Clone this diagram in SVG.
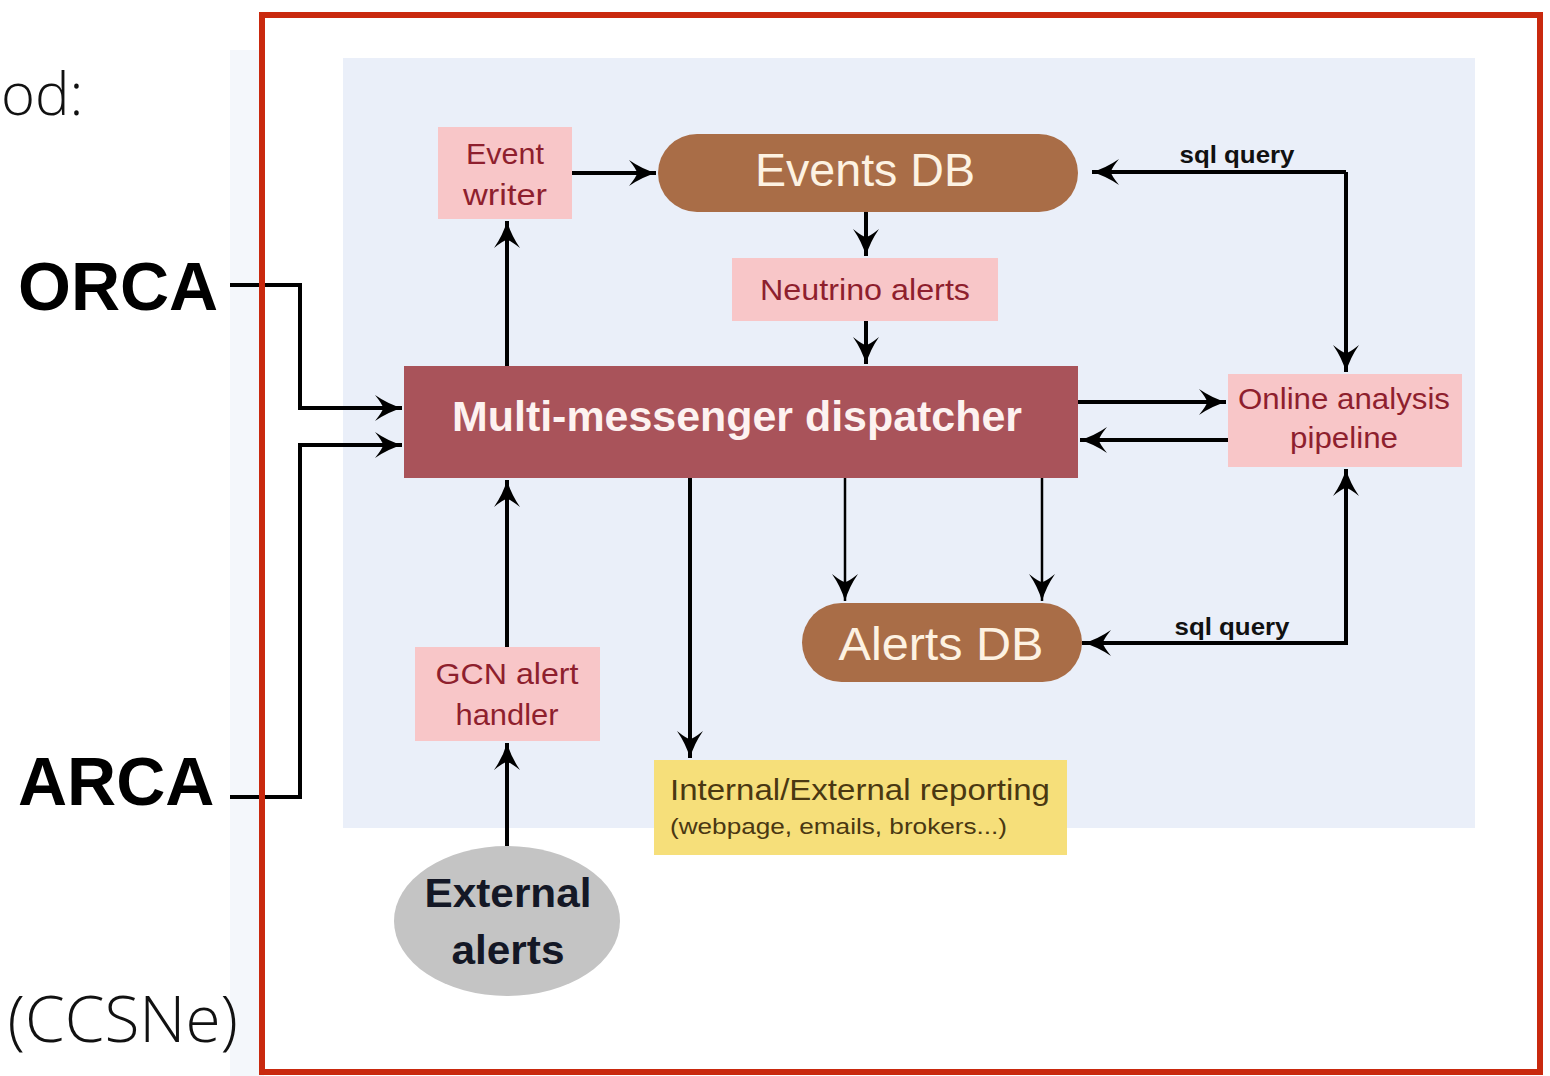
<svg xmlns="http://www.w3.org/2000/svg" width="1550" height="1076" viewBox="0 0 1550 1076">
<style>
.pink{fill:#f8c6c8}
.pt{fill:#8e1f2e;font-family:"Liberation Sans",Arial,sans-serif;font-size:30px;text-anchor:middle}
.db{fill:#a96d47}
.dbt{fill:#fdf2e2;font-family:"Liberation Sans",Arial,sans-serif;font-size:46px;text-anchor:middle}
.ln{fill:none;stroke:#000;stroke-width:4}
.thin{fill:none;stroke:#000;stroke-width:2.5}
.sql{fill:#111;font-family:"Liberation Sans",Arial,sans-serif;font-size:24px;font-weight:bold;text-anchor:middle}
.big{fill:#000;font-family:"Liberation Sans",Arial,sans-serif;font-size:68px;font-weight:bold}
.lt{fill:#111;font-family:"Open Sans","Liberation Sans",sans-serif;font-weight:300}
</style>
<defs>
<marker id="ah" viewBox="-30 -15 32 30" refX="0" refY="0" markerWidth="32" markerHeight="30" markerUnits="userSpaceOnUse" orient="auto">
<path d="M0,0 Q-14,-4 -27,-13 Q-19,-3 -19,0 Q-19,3 -27,13 Q-14,4 0,0 Z" fill="#000"/>
</marker>
</defs>
<rect width="1550" height="1076" fill="#fff"/>
<rect x="230" y="50" width="34" height="1026" fill="#f4f7fb"/>
<rect x="343" y="58" width="1132" height="770" fill="#eaeff9"/>

<text class="lt" x="1" y="115" font-size="58">od:</text>
<text class="lt" x="238" y="1042" font-size="64" text-anchor="end">(CCSNe)</text>

<g id="orca"><text class="big" x="18" y="310">ORCA</text></g>
<g id="arca"><text class="big" x="18" y="805">ARCA</text></g>

<g id="event-writer"><rect class="pink" x="438" y="127" width="134" height="92"/>
<text class="pt" x="505" y="164" textLength="78" lengthAdjust="spacingAndGlyphs">Event</text>
<text class="pt" x="505" y="205" textLength="84" lengthAdjust="spacingAndGlyphs">writer</text></g>

<g id="events-db"><rect class="db" x="658" y="134" width="420" height="78" rx="39"/>
<text class="dbt" x="865" y="186" textLength="220" lengthAdjust="spacingAndGlyphs">Events DB</text></g>

<g id="neutrino-alerts"><rect class="pink" x="732" y="258" width="266" height="63"/>
<text class="pt" x="865" y="300" textLength="210" lengthAdjust="spacingAndGlyphs">Neutrino alerts</text></g>

<g id="dispatcher"><rect x="404" y="366" width="674" height="112" fill="#a9535a"/>
<text x="737" y="431" fill="#fdf2f0" font-family="Liberation Sans,Arial,sans-serif" font-size="42" font-weight="bold" text-anchor="middle" textLength="570" lengthAdjust="spacingAndGlyphs">Multi-messenger dispatcher</text></g>

<g id="online-analysis"><rect class="pink" x="1228" y="374" width="234" height="93"/>
<text class="pt" x="1344" y="409" textLength="212" lengthAdjust="spacingAndGlyphs">Online analysis</text>
<text class="pt" x="1344" y="448" textLength="108" lengthAdjust="spacingAndGlyphs">pipeline</text></g>

<g id="alerts-db"><rect class="db" x="802" y="603" width="280" height="79" rx="39.5"/>
<text class="dbt" x="941" y="660" textLength="205" lengthAdjust="spacingAndGlyphs">Alerts DB</text></g>

<g id="gcn-handler"><rect class="pink" x="415" y="647" width="185" height="94"/>
<text class="pt" x="507" y="684" textLength="143" lengthAdjust="spacingAndGlyphs">GCN alert</text>
<text class="pt" x="507" y="725" textLength="103" lengthAdjust="spacingAndGlyphs">handler</text></g>

<g id="reporting"><rect x="654" y="760" width="413" height="95" fill="#f6df7a"/>
<text x="670" y="800" fill="#4a3812" font-family="Liberation Sans,Arial,sans-serif" font-size="30" textLength="380" lengthAdjust="spacingAndGlyphs">Internal/External reporting</text>
<text x="670" y="834" fill="#4a3812" font-family="Liberation Sans,Arial,sans-serif" font-size="22" textLength="337" lengthAdjust="spacingAndGlyphs">(webpage, emails, brokers...)</text></g>

<g id="external-alerts"><ellipse cx="507" cy="921" rx="113" ry="75" fill="#c4c4c4"/>
<text x="508" y="907" fill="#141826" font-family="Liberation Sans,Arial,sans-serif" font-size="40" font-weight="bold" text-anchor="middle" textLength="167" lengthAdjust="spacingAndGlyphs">External</text>
<text x="508" y="964" fill="#141826" font-family="Liberation Sans,Arial,sans-serif" font-size="40" font-weight="bold" text-anchor="middle" textLength="113" lengthAdjust="spacingAndGlyphs">alerts</text></g>

<g id="connectors">
<path class="ln" d="M230,285 H300 V408 H402" marker-end="url(#ah)"/>
<path class="ln" d="M230,797 H300 V445 H402" marker-end="url(#ah)"/>
<path class="ln" d="M507,366 V221" marker-end="url(#ah)"/>
<path class="ln" d="M572,173 H656" marker-end="url(#ah)"/>
<path class="ln" d="M866,212 V256" marker-end="url(#ah)"/>
<path class="ln" d="M866,321 V364" marker-end="url(#ah)"/>
<path class="ln" d="M1346,172 H1092" marker-end="url(#ah)"/>
<path class="ln" d="M1346,172 V372" marker-end="url(#ah)"/>
<path class="ln" d="M1078,402 H1226" marker-end="url(#ah)"/>
<path class="ln" d="M1228,440 H1080" marker-end="url(#ah)"/>
<path class="ln" d="M1082,643 H1346 V469" marker-end="url(#ah)"/>
<path class="ln" d="M1346,643 H1084" marker-end="url(#ah)"/>
<path class="thin" d="M845,478 V601" marker-end="url(#ah)"/>
<path class="thin" d="M1042,478 V601" marker-end="url(#ah)"/>
<path class="ln" d="M690,478 V758" marker-end="url(#ah)"/>
<path class="ln" d="M507,647 V480" marker-end="url(#ah)"/>
<path class="ln" d="M507,846 V743" marker-end="url(#ah)"/>
<text class="sql" x="1237" y="163" textLength="115" lengthAdjust="spacingAndGlyphs">sql query</text>
<text class="sql" x="1232" y="635" textLength="115" lengthAdjust="spacingAndGlyphs">sql query</text>
</g>

<rect x="262" y="15" width="1278" height="1057" fill="none" stroke="#c9290e" stroke-width="6"/>
</svg>
